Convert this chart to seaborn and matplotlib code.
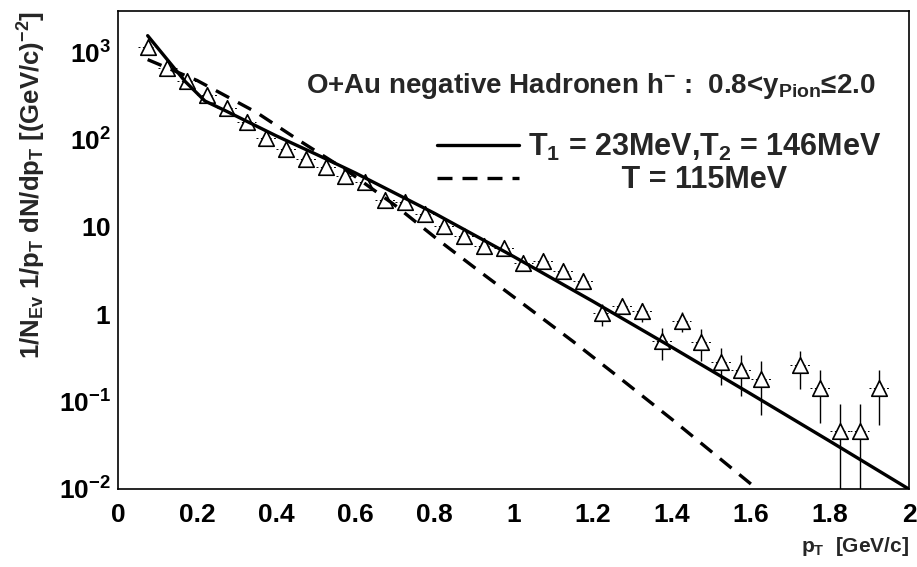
import numpy as np
import pandas as pd
import matplotlib
matplotlib.use("Agg")
import matplotlib.pyplot as plt
from matplotlib import font_manager
from matplotlib.ticker import FixedLocator, FixedFormatter, LogLocator, NullFormatter
import seaborn as sns

# ---- measured h- spectrum (bin centres in GeV/c) ----
pt = [0.075, 0.125, 0.175, 0.225, 0.275, 0.325, 0.375, 0.425, 0.475, 0.525,
      0.575, 0.625, 0.675, 0.725, 0.775, 0.825, 0.875, 0.925, 0.975, 1.025,
      1.075, 1.125, 1.175, 1.225, 1.275, 1.325, 1.375, 1.425, 1.475, 1.525,
      1.575, 1.625, 1.725, 1.775, 1.825, 1.875, 1.925]
yields = [1150, 660, 470, 320, 230, 160, 103, 77, 59, 48,
          38, 33, 20.5, 19, 14, 10.2, 7.9, 6.1, 5.8, 3.9,
          4.1, 3.15, 2.4, 1.03, 1.25, 1.08, 0.50, 0.84, 0.48, 0.285,
          0.23, 0.18, 0.26, 0.142, 0.046, 0.046, 0.142]
yield_err = [35, 20, 14, 10, 7, 5, 3, 2.3, 1.8, 1.4,
             1.1, 1.6, 1.0, 1.0, 0.7, 0.5, 0.4, 0.3, 0.3, 0.3,
             0.4, 0.38, 0.29, 0.29, 0.25, 0.27, 0.20, 0.22, 0.19, 0.13,
             0.115, 0.11, 0.12, 0.085, 0.048, 0.048, 0.088]
pt_half_bin = 0.025

# ---- fitted thermal spectra, sampled along pT ----
fit_pt_two_t = [0.075, 0.17, 0.22, 0.27, 0.32, 0.40, 0.50, 0.60, 0.80,
                1.00, 1.20, 1.40, 1.60, 1.80, 2.00]
fit_two_t = [1540, 460, 275, 215, 166, 110, 68, 41.4, 14.3,
             4.58, 1.41, 0.42, 0.1225, 0.0352, 0.00996]
fit_pt_one_t = [0.075, 0.20, 0.35, 0.46, 0.58, 0.70, 0.81, 0.92, 1.04,
                1.15, 1.26, 1.40, 1.61, 1.70]
fit_one_t = [820, 473, 204, 96, 43.6, 17.7, 7.06, 2.95, 1.16,
             0.49, 0.20, 0.063, 0.0105, 0.005]

label_two_t = "T$_{1}$ = 23MeV,T$_{2}$ = 146MeV"
label_one_t = "T = 115MeV"
title = "O+Au negative Hadronen h$^{-}$ :  0.8<y$_{\\rm Pion}$\u22642.0"

x_major = [0, 0.2, 0.4, 0.6, 0.8, 1.0, 1.2, 1.4, 1.6, 1.8, 2.0]
x_labels = ["0", "0.2", "0.4", "0.6", "0.8", "1", "1.2", "1.4", "1.6", "1.8", "2"]
y_major = [1e-2, 1e-1, 1, 10, 1e2, 1e3]
y_labels = ["$10^{-2}$", "$10^{-1}$", "$1$", "$10$", "$10^{2}$", "$10^{3}$"]

sns.set_theme(style="white")
installed = {f.name for f in font_manager.fontManager.ttflist}
base_font = "Liberation Sans Narrow" if "Liberation Sans Narrow" in installed else "Liberation Sans"
plt.rcParams.update({
    "font.family": [base_font, "Liberation Sans", "DejaVu Sans"],
    "font.weight": "bold",
    "axes.labelweight": "bold",
    "mathtext.fontset": "custom",
    "mathtext.rm": f"{base_font}:bold",
    "mathtext.bf": f"{base_font}:bold",
    "mathtext.it": f"{base_font}:bold",
    "mathtext.sf": f"{base_font}:bold",
    "mathtext.default": "bf",
    "axes.edgecolor": "black",
    "axes.linewidth": 1.2,
})

spectrum = pd.DataFrame({"pt": pt, "yield": yields, "err": yield_err})
fit_a = pd.DataFrame({"pt": fit_pt_two_t, "value": fit_two_t})
fit_b = pd.DataFrame({"pt": fit_pt_one_t, "value": fit_one_t})

fig, ax = plt.subplots(figsize=(9.17, 5.67), dpi=100)
fig.subplots_adjust(left=118 / 917, right=909 / 917, bottom=78 / 567, top=556 / 567)
ax.set_yscale("log")

# horizontal bin-width bars (dotted) and vertical statistical errors
xbars = ax.errorbar(spectrum["pt"], spectrum["yield"], xerr=pt_half_bin, fmt="none",
                    ecolor="black", elinewidth=0.7, capsize=0, zorder=2)
xbars.lines[2][0].set_linestyle((0, (2, 2.5)))
ax.errorbar(spectrum["pt"], spectrum["yield"], yerr=spectrum["err"], fmt="none",
            ecolor="black", elinewidth=1.0, capsize=0, zorder=2)

sns.scatterplot(data=spectrum, x="pt", y="yield", marker="^", s=125, color="white",
                edgecolor="black", linewidth=1.2, zorder=3, ax=ax, legend=False)

sns.lineplot(data=fit_a, x="pt", y="value", color="black", lw=2.4, sort=False,
             estimator=None, zorder=4, ax=ax, label=label_two_t)
sns.lineplot(data=fit_b, x="pt", y="value", color="black", lw=2.4, sort=False,
             estimator=None, zorder=4, ax=ax, label=label_one_t, linestyle=(0, (4.5, 3)))

ax.set_xlim(0, 2)
ax.set_ylim(1e-2, 2950)

ax.xaxis.set_major_locator(FixedLocator(x_major))
ax.xaxis.set_major_formatter(FixedFormatter(x_labels))
ax.xaxis.set_minor_locator(FixedLocator(np.arange(0, 2.0001, 0.02)))
ax.yaxis.set_major_locator(FixedLocator(y_major))
ax.yaxis.set_major_formatter(FixedFormatter(y_labels))
ax.yaxis.set_minor_locator(LogLocator(base=10, subs=range(2, 10)))
ax.yaxis.set_minor_formatter(NullFormatter())
ax.tick_params(which="both", direction="in", top=False, right=False,
               colors="black", width=1.0, labelsize=19)
ax.tick_params(which="major", length=11)
ax.tick_params(which="minor", length=5.8)
ax.tick_params(axis="x", which="major", pad=10)
ax.tick_params(axis="y", which="major", pad=5)

ax.set_xlabel("p$_{\\rm T}$  [GeV/c]", loc="right", fontsize=15, labelpad=6)
ax.set_ylabel("1/N$_{\\rm Ev}$ 1/p$_{\\rm T}$ dN/dp$_{\\rm T}$ [(GeV/c)$^{-2}$]",
              loc="top", fontsize=18.5, labelpad=8)

ax.text(0.958, 0.843, title, transform=ax.transAxes, ha="right", va="center",
        fontsize=20)

handles, labels = ax.get_legend_handles_labels()
leg = ax.legend(handles, labels, loc="upper left", bbox_to_anchor=(0.403, 0.747),
                frameon=False, fontsize=22, handlelength=2.7, handletextpad=0.3,
                labelspacing=0.08, borderpad=0, borderaxespad=0)

# centre the second legend entry under the first one
fig.canvas.draw()
renderer = fig.canvas.get_renderer()
texts = leg.get_texts()
w_first = texts[0].get_window_extent(renderer).width
w_second = texts[1].get_window_extent(renderer).width
probe_a = ax.text(0, 0, "x x", fontsize=22)
probe_b = ax.text(0, 0, "xx", fontsize=22)
space_w = probe_a.get_window_extent(renderer).width - probe_b.get_window_extent(renderer).width
probe_a.remove()
probe_b.remove()
n_pad = int(round((w_first - w_second) / 2 / max(space_w, 1)))
texts[1].set_text(" " * n_pad + label_one_t)

fig.savefig("out.png", dpi=100)
